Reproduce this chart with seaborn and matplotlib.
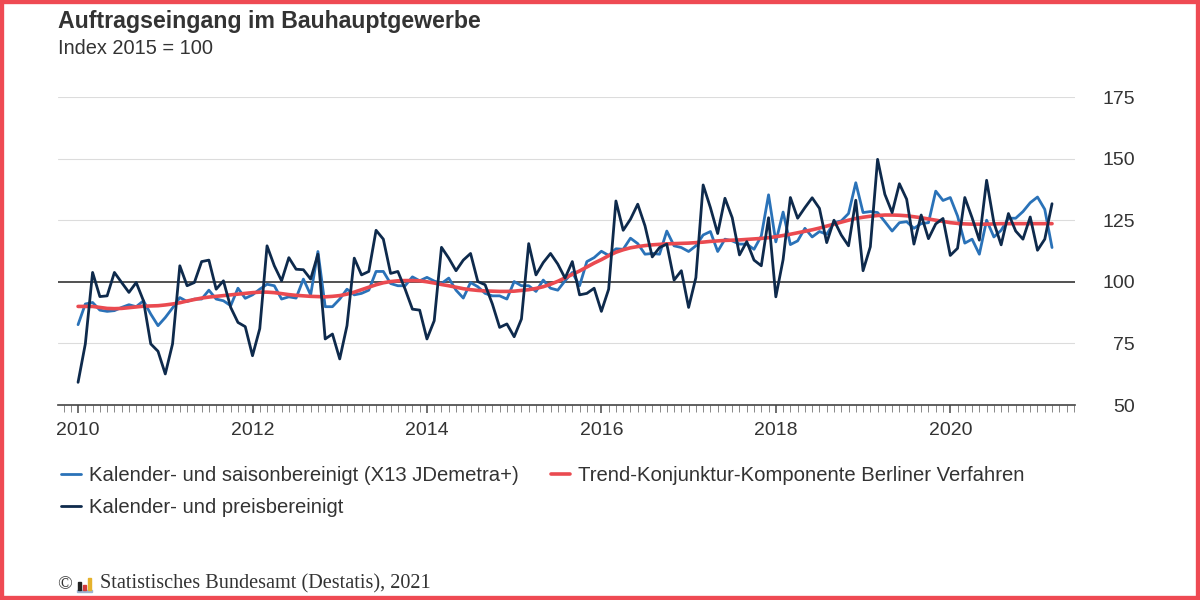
import numpy as np
import pandas as pd
import matplotlib.pyplot as plt
from matplotlib.patches import Rectangle
from matplotlib.ticker import FixedLocator
import seaborn as sns

# monthly values, Jan 2010 .. Mar 2021
start_year = 2010

saisonbereinigt = [
    82.6, 91.0, 91.6, 88.5, 88.0, 88.3, 89.6, 90.7, 89.9, 92.3, 86.9, 82.2,
    85.5, 89.4, 93.6, 92.0, 93.0, 93.0, 96.6, 93.0, 92.3, 90.3, 97.4, 93.3,
    94.7, 97.0, 99.0, 98.4, 93.0, 93.9, 93.4, 101.1, 94.7, 112.3, 89.9, 89.9,
    93.0, 97.0, 94.7, 95.3, 96.6, 104.2, 104.2, 99.3, 98.4, 98.4, 102.0, 100.4,
    101.8, 100.3, 99.3, 101.5, 96.6, 93.4, 99.7, 98.0, 95.3, 94.3, 94.3, 93.0,
    100.1, 98.4, 98.4, 96.1, 100.7, 97.4, 96.6, 100.4, 103.8, 98.4, 108.2, 109.8,
    112.4, 110.7, 113.4, 113.2, 117.7, 115.5, 111.2, 111.5, 111.2, 120.6, 114.6, 113.9,
    112.3, 114.6, 119.0, 120.4, 112.3, 117.3, 116.6, 115.3, 115.3, 113.2, 118.6, 135.3,
    116.2, 128.3, 115.1, 116.6, 121.7, 118.2, 120.4, 119.3, 124.0, 124.7, 127.7, 140.2,
    128.1, 128.5, 128.1, 124.4, 120.6, 124.0, 124.4, 121.7, 123.6, 124.0, 136.8, 133.0,
    134.2, 126.7, 115.7, 117.3, 111.2, 125.0, 118.2, 120.9, 125.8, 125.8, 128.5, 132.1,
    134.4, 129.4, 113.9,
]

preisbereinigt = [
    59.2, 74.8, 103.8, 94.0, 94.3, 103.8, 99.7, 95.7, 99.7, 92.3, 74.8, 71.8,
    62.6, 74.8, 106.5, 98.4, 99.7, 108.2, 108.8, 97.0, 100.4, 89.6, 83.5, 81.8,
    70.0, 81.0, 114.6, 106.5, 100.4, 109.8, 105.1, 104.9, 101.1, 111.2, 76.8, 78.8,
    68.7, 82.2, 109.6, 102.8, 104.2, 120.9, 117.3, 103.4, 104.2, 97.0, 88.9, 88.5,
    76.8, 84.2, 114.0, 109.6, 104.5, 108.8, 111.5, 100.1, 98.8, 91.0, 81.5, 82.9,
    77.7, 84.9, 115.5, 102.8, 107.8, 111.5, 107.2, 101.5, 108.2, 94.7, 95.3, 97.4,
    88.0, 97.0, 132.8, 120.9, 125.4, 131.5, 122.7, 110.1, 113.9, 115.3, 100.7, 104.5,
    89.6, 101.7, 139.3, 130.1, 119.6, 133.9, 126.0, 110.9, 116.3, 108.8, 106.5, 126.0,
    93.9, 109.0, 134.2, 125.8, 130.1, 134.1, 129.8, 115.9, 125.0, 119.0, 114.6, 133.1,
    104.5, 114.2, 149.7, 135.5, 128.1, 139.8, 133.5, 115.3, 127.1, 117.5, 123.5, 125.7,
    110.7, 113.6, 134.2, 126.0, 116.9, 141.2, 124.0, 115.0, 127.7, 120.6, 117.3, 126.3,
    112.8, 117.3, 131.7,
]

trend = [
    90.0, 90.0, 90.0, 89.6, 89.2, 89.1, 89.2, 89.5, 89.8, 90.1, 90.2, 90.3,
    90.6, 91.0, 91.5, 92.2, 92.8, 93.4, 93.8, 94.1, 94.4, 94.7, 95.0, 95.3,
    95.6, 95.8, 95.8, 95.6, 95.2, 94.8, 94.5, 94.3, 94.1, 94.0, 93.9, 94.1,
    94.4, 95.0, 95.8, 96.8, 97.8, 98.8, 99.6, 100.1, 100.4, 100.5, 100.5, 100.4,
    100.0, 99.5, 98.9, 98.4, 97.8, 97.2, 96.8, 96.5, 96.3, 96.2, 96.1, 96.1,
    96.2, 96.5, 96.8, 97.3, 98.0, 99.0, 100.2, 101.6, 103.0, 104.4, 106.0, 107.6,
    109.0, 110.6, 112.0, 113.0, 113.8, 114.3, 114.7, 115.0, 115.2, 115.4, 115.5, 115.6,
    115.7, 115.9, 116.1, 116.4, 116.6, 116.8, 116.9, 117.0, 117.2, 117.4, 117.6, 117.9,
    118.3, 118.8, 119.3, 119.9, 120.5, 121.1, 121.8, 122.6, 123.4, 124.2, 125.0, 125.7,
    126.2, 126.6, 126.9, 127.1, 127.1, 127.0, 126.8, 126.4, 126.0, 125.5, 125.0, 124.5,
    124.0, 123.7, 123.5, 123.4, 123.4, 123.4, 123.5, 123.6, 123.6, 123.6, 123.6, 123.6,
    123.6, 123.6, 123.6,
]

year_ticks = [2010, 2012, 2014, 2016, 2018, 2020]
y_ticks = [50, 75, 100, 125, 150, 175]

label_saison = "Kalender- und saisonbereinigt (X13 JDemetra+)"
label_preis = "Kalender- und preisbereinigt"
label_trend = "Trend-Konjunktur-Komponente Berliner Verfahren"

blue = "#2a72b8"
navy = "#0e2a4c"
red = "#ea4a50"

sns.set_theme(style="white")
plt.rcParams["font.family"] = ["Liberation Sans", "DejaVu Sans"]

df = pd.DataFrame({
    "jahr": start_year + np.arange(len(trend)) / 12,
    "saison": saisonbereinigt,
    "preis": preisbereinigt,
    "trend": trend,
})

fig = plt.figure(figsize=(12, 6), dpi=100)
ax = fig.add_axes([58 / 1200, 195 / 600, 1017 / 1200, 308 / 600])

for y in y_ticks[1:]:
    if y == 100:
        ax.axhline(y, color="#333333", lw=1.2, zorder=1)
    else:
        ax.axhline(y, color="#dcdcdc", lw=0.8, zorder=0)

sns.lineplot(data=df, x="jahr", y="saison", ax=ax, color=blue, lw=2.0,
             label=label_saison, zorder=2)
sns.lineplot(data=df, x="jahr", y="trend", ax=ax, color=red, lw=2.6,
             label=label_trend, zorder=3)
sns.lineplot(data=df, x="jahr", y="preis", ax=ax, color=navy, lw=2.0,
             label=label_preis, zorder=4)

ax.set_xlim(2009.77, 2021.43)
ax.set_ylim(50, 175)
ax.set_xlabel("")
ax.set_ylabel("")

ax.set_xticks(year_ticks)
ax.set_xticklabels([str(y) for y in year_ticks])
ax.xaxis.set_minor_locator(FixedLocator(np.arange(2009.75, 2021.42, 1 / 12)))
ax.tick_params(axis="x", which="both", bottom=True)
ax.tick_params(axis="x", which="major", direction="out", length=6, width=1.2,
               color="#555555", labelsize=14, labelcolor="#333333", pad=6)
ax.tick_params(axis="x", which="minor", direction="out", length=5, width=0.7,
               color="#888888")

ax.yaxis.tick_right()
ax.set_yticks(y_ticks)
ax.tick_params(axis="y", length=0, labelsize=14, labelcolor="#333333", pad=43)
for lab in ax.get_yticklabels():
    lab.set_horizontalalignment("right")

for side in ["top", "left", "right"]:
    ax.spines[side].set_visible(False)
ax.spines["bottom"].set_color("#444444")
ax.spines["bottom"].set_linewidth(1.2)

handles, labels = ax.get_legend_handles_labels()
ax.get_legend().remove()
order = [0, 2, 1]
fig.legend([handles[i] for i in order], [labels[i] for i in order],
           loc="upper left", bbox_to_anchor=(43 / 1200, 1 - 448 / 600),
           ncol=2, frameon=False, fontsize=14.6, handlelength=0.95,
           handletextpad=0.4, columnspacing=1.6, labelspacing=0.62,
           labelcolor="#333333")

fig.text(58 / 1200, 1 - 10 / 600, "Auftragseingang im Bauhauptgewerbe",
         fontsize=16.7, fontweight="bold", color="#333333", va="top")
fig.text(58 / 1200, 1 - 39 / 600, "Index 2015 = 100", fontsize=14.4,
         color="#333333", va="top")

# footer with small logo
fig.text(57 / 1200, 1 - 585 / 600, "©", fontsize=14, family="Liberation Serif",
         color="#333333", va="center")
fig.add_artist(Rectangle((77 / 1200, 1 - 592 / 600), 15 / 1200, 2 / 600,
                         color="#9db3d0", transform=fig.transFigure))
fig.add_artist(Rectangle((78 / 1200, 1 - 590 / 600), 3 / 1200, 8 / 600,
                         color="#222222", transform=fig.transFigure))
fig.add_artist(Rectangle((83 / 1200, 1 - 590 / 600), 3 / 1200, 5 / 600,
                         color="#d23a3a", transform=fig.transFigure))
fig.add_artist(Rectangle((88 / 1200, 1 - 590 / 600), 3 / 1200, 12 / 600,
                         color="#e5b22c", transform=fig.transFigure))
fig.text(100 / 1200, 1 - 584 / 600, "Statistisches Bundesamt (Destatis), 2021",
         fontsize=14.6, family="Liberation Serif", color="#333333", va="center")

fig.add_artist(Rectangle((0, 0), 1, 1, fill=False, edgecolor="#ef4a53",
                         lw=6, transform=fig.transFigure))

fig.savefig("out.png", dpi=100)
